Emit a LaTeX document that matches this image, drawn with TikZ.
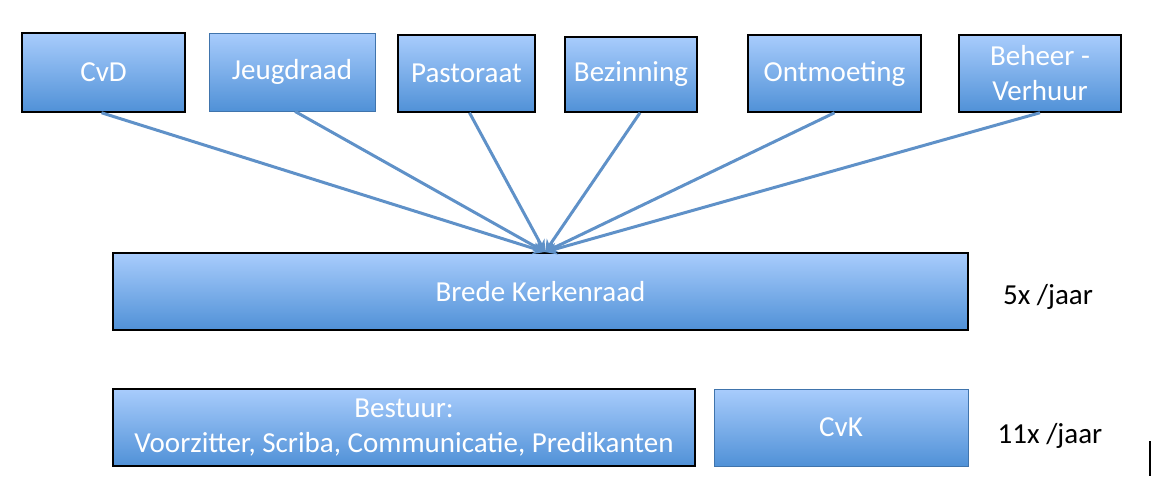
\documentclass[tikz,border=0pt]{standalone}
\usepackage{fontspec}
\setmainfont{Carlito}
\usetikzlibrary{arrows.meta}
\begin{document}
\begin{tikzpicture}[x=1pt,y=-1pt,
 bx/.style={draw=black,line width=1.5pt,top color=blueTop,bottom color=blueBot,text=white,inner sep=0pt,font=\fontsize{29}{35}\selectfont,align=center},
 nb/.style={bx,draw=blueBot!80!black,line width=0.8pt},
 ar/.style={draw=arrowc,line width=3pt,-{Stealth[length=12pt,width=12pt]}}]
\definecolor{blueTop}{RGB}{168,204,252}
\definecolor{blueBot}{RGB}{80,145,215}
\definecolor{arrowc}{RGB}{95,145,200}
\useasboundingbox (0,0) rectangle (1160,496);
\node[bx,minimum width=163,minimum height=79] (cvd) at (103.5,72.5) {\raisebox{-3pt}{CvD}};
\node[nb,minimum width=166,minimum height=78] (jeugd) at (292,72) {\raisebox{-6pt}{Jeugdraad}};
\node[bx,minimum width=137,minimum height=77] (past) at (466.5,73.5) {\raisebox{-3pt}{Pastoraat}};
\node[bx,minimum width=132,minimum height=75] (bez) at (631,74.5) {\raisebox{-6pt}{Bezinning}};
\node[bx,minimum width=173,minimum height=77] (ont) at (834.5,73.5) {\raisebox{-6pt}{Ontmoeting}};
\node[bx,minimum width=162,minimum height=77] (beh) at (1040,73.5) {Beheer -\\Verhuur};
\node[bx,minimum width=855,minimum height=77] (brede) at (540.5,291.5) {\raisebox{-3pt}{Brede Kerkenraad}};
\node[bx,minimum width=582,minimum height=77] (best) at (404,427.5) {Bestuur:\\Voorzitter, Scriba, Communicatie, Predikanten};
\node[nb,minimum width=254,minimum height=77] (cvk) at (841,427.5) {\raisebox{-3pt}{CvK}};
\coordinate (t) at (545,252);
\draw[ar] (cvd.south) ++(-2,0) -- (t);
\draw[ar] (jeugd.south) ++(3,0) -- (t);
\draw[ar] (past.south) ++(3,0) -- (t);
\draw[ar] (bez.south) ++(9,0) -- (t);
\draw[ar] (ont.south) -- (t);
\draw[ar] (beh.south) -- (t);
\node[font=\fontsize{29}{31}\selectfont] (f1) at (1048,297) {5x /jaar};
\node[font=\fontsize{29}{31}\selectfont] (f2) at (1050,436) {11x /jaar};
\coordinate (c1) at (1150,441);
\coordinate (c2) at (1150,476);
\draw[line width=1.5pt] (c1) -- (c2);
\end{tikzpicture}
\end{document}
